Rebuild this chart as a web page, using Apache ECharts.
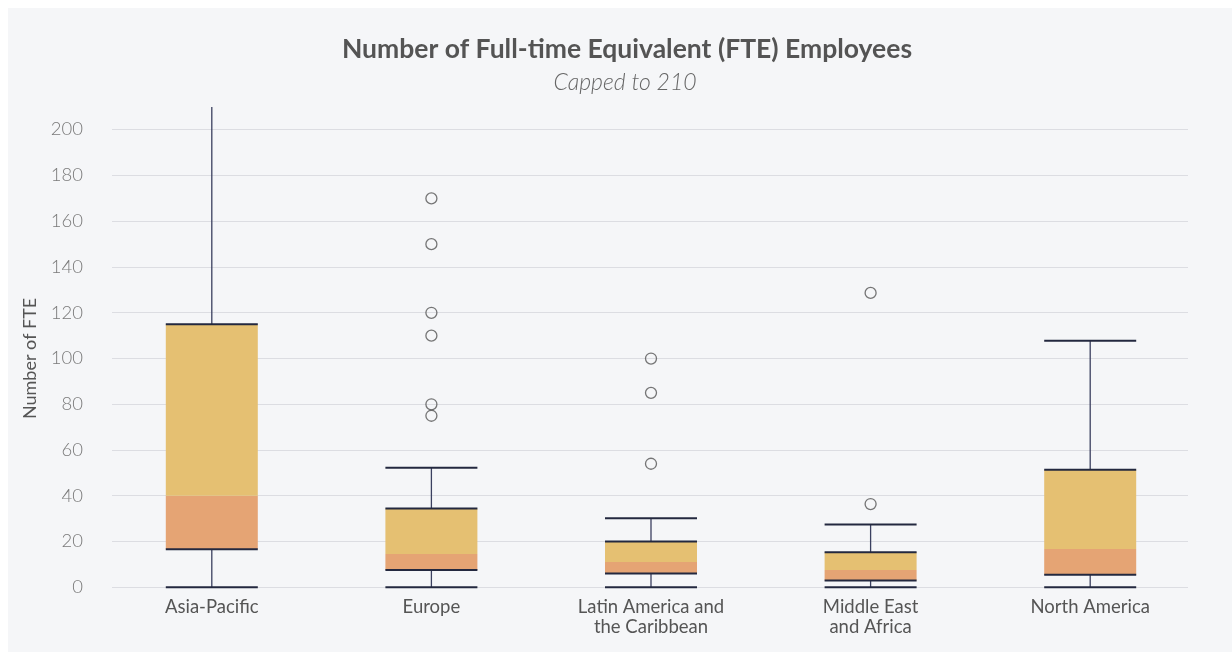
<!DOCTYPE html>
<html>
<head>
<meta charset="utf-8">
<script src="https://cdn.jsdelivr.net/npm/echarts@6/dist/echarts.min.js"></script>
<style>
  html, body { margin: 0; padding: 0; background: #ffffff; }
  .panel { position: absolute; left: 8px; top: 8px; width: 1224px; height: 644px; background: #f5f6f8; }
  #chart { position: absolute; left: 0; top: 0; width: 1232px; height: 652px; }
</style>
</head>
<body>
<div class="panel"></div>
<div id="chart"></div>
<script>
// regions
var categories = ['Asia-Pacific', 'Europe', 'Latin America and\nthe Caribbean', 'Middle East\nand Africa', 'North America'];
// box statistics per region
var whiskerLow = [0, 0, 0, 0, 0];
var q1 = [16.6, 7.6, 6.0, 3.0, 5.5];
var median = [40, 14.6, 11.1, 7.6, 16.7];
var q3 = [115, 34.4, 20.0, 15.3, 51.4];
var whiskerHigh = [210, 52.3, 30.2, 27.4, 107.8];
// outliers: [region index, value]
var outliers = [
  [1, 170], [1, 150], [1, 120], [1, 110], [1, 80], [1, 75],
  [2, 100], [2, 85], [2, 54],
  [3, 128.7], [3, 36.4]
];
var yTicks = [0, 20, 40, 60, 80, 100, 120, 140, 160, 180, 200];
var capValue = 210;

var FONT = 'Lato, "Noto Sans", sans-serif';
var boxData = categories.map(function (c, i) {
  return [i, whiskerLow[i], q1[i], median[i], q3[i], whiskerHigh[i]];
});

var chart = echarts.init(document.getElementById('chart'));

// one box: two halves split at the median, lines at q1/q3, whiskers with caps
// (no cap when the whisker hits the cap value, it just runs off)
function renderBox(params, api) {
  var x = api.value(0);
  var pLow = api.coord([x, api.value(1)]);
  var pQ1 = api.coord([x, api.value(2)]);
  var pMed = api.coord([x, api.value(3)]);
  var pQ3 = api.coord([x, api.value(4)]);
  var pHigh = api.coord([x, api.value(5)]);
  var hw = 46;
  var cx = pQ1[0];
  var capStyle = { stroke: '#23283f', lineWidth: 2 };
  var stemStyle = { stroke: '#3b4060', lineWidth: 1.3 };
  var kids = [
    { type: 'rect', shape: { x: cx - hw, y: pMed[1], width: hw * 2, height: pQ1[1] - pMed[1] }, style: { fill: '#e5a474' } },
    { type: 'rect', shape: { x: cx - hw, y: pQ3[1], width: hw * 2, height: pMed[1] - pQ3[1] }, style: { fill: '#e5c072' } },
    { type: 'line', shape: { x1: cx, y1: pQ3[1], x2: cx, y2: pHigh[1] }, style: stemStyle },
    { type: 'line', shape: { x1: cx, y1: pLow[1], x2: cx, y2: pQ1[1] }, style: stemStyle },
    { type: 'line', shape: { x1: cx - hw, y1: pQ3[1], x2: cx + hw, y2: pQ3[1] }, style: capStyle },
    { type: 'line', shape: { x1: cx - hw, y1: pQ1[1], x2: cx + hw, y2: pQ1[1] }, style: capStyle },
    { type: 'line', shape: { x1: cx - hw, y1: pLow[1], x2: cx + hw, y2: pLow[1] }, style: capStyle }
  ];
  if (api.value(5) < capValue) {
    kids.push({ type: 'line', shape: { x1: cx - hw, y1: pHigh[1], x2: cx + hw, y2: pHigh[1] }, style: capStyle });
  }
  return { type: 'group', children: kids };
}

chart.setOption({
  backgroundColor: 'transparent',
  animation: false,
  title: [
    {
      text: 'Number of Full-time Equivalent (FTE) Employees',
      left: 622, top: 31, textAlign: 'center',
      textStyle: { fontFamily: FONT, fontSize: 26.5, fontWeight: 'bold', color: '#545454' }
    },
    {
      text: 'Capped to 210',
      left: 620, top: 66, textAlign: 'center',
      textStyle: { fontFamily: FONT, fontSize: 23, fontWeight: 300, fontStyle: 'italic', color: '#666666' }
    }
  ],
  grid: [
    // gridlines + tick labels
    { left: 112, right: 44, top: 129.5, bottom: 64.7 },
    // boxes
    { left: 102, right: 32, top: 106.9, bottom: 64.7 }
  ],
  xAxis: [
    { type: 'category', gridIndex: 0, data: categories, show: false },
    {
      type: 'category', gridIndex: 1, data: categories,
      axisLine: { show: false }, axisTick: { show: false },
      axisLabel: { fontFamily: FONT, fontSize: 18.5, color: '#555555', margin: 10, lineHeight: 20 }
    }
  ],
  yAxis: [
    {
      type: 'value', gridIndex: 0, min: yTicks[0], max: yTicks[yTicks.length - 1], interval: 20,
      name: 'Number of FTE', nameLocation: 'middle', nameGap: 73, nameRotate: 90,
      nameTextStyle: { fontFamily: FONT, fontSize: 18, color: '#555555' },
      axisLine: { show: false }, axisTick: { show: false },
      axisLabel: { fontFamily: FONT, fontSize: 18.5, fontWeight: 300, color: '#7a7a7a', margin: 29 },
      splitLine: { lineStyle: { color: '#dcdde2', width: 1 } }
    },
    { type: 'value', gridIndex: 1, min: 0, max: capValue, show: false, splitLine: { show: false } }
  ],
  series: [
    {
      type: 'custom', xAxisIndex: 1, yAxisIndex: 1,
      renderItem: renderBox,
      encode: { x: 0, y: [1, 2, 3, 4, 5] },
      data: boxData,
      z: 2
    },
    {
      type: 'scatter', xAxisIndex: 1, yAxisIndex: 1,
      symbol: 'circle', symbolSize: 11,
      itemStyle: { color: 'rgba(0,0,0,0)', borderColor: '#555555', borderWidth: 1.3 },
      data: outliers,
      z: 3
    }
  ]
});
</script>
</body>
</html>
